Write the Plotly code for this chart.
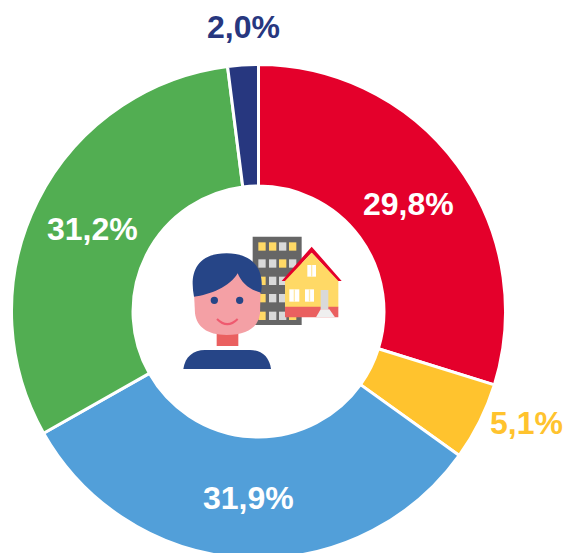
import plotly.graph_objects as go

labels = ["A", "B", "C", "D", "E"]
values = [29.8, 5.1, 31.9, 31.2, 2.0]
colors = ["#E4002B", "#FFC32E", "#529FD9", "#52AE52", "#27377F"]
text_colors = ["#FFFFFF", "#FFC32E", "#FFFFFF", "#FFFFFF", "#27377F"]
label_px = [(408, 204), (526, 423), (248, 498), (92, 229), (243, 27)]

W, H = 567, 564
CX, CY, R = 258.5, 311.5, 247
FONT = dict(family="Liberation Sans", size=32, weight="bold")

def X(z):
    return (170 + z / 3) / W
def Y(z):
    return 1 - (220 + z / 3) / H
def path(s):
    out = []
    for t in s.split():
        if "," in t:
            a, b = t.split(",")
            out.append(f"{X(float(a)):.5f},{Y(float(b)):.5f}")
        else:
            out.append(t)
    return " ".join(out)
def shape(s, fill, line=None, w=0):
    return dict(type="path", xref="paper", yref="paper", path=path(s), fillcolor=fill,
                line=dict(color=line or fill, width=w), layer="above")
def rect(x0, y0, x1, y1, fill):
    return shape(f"M {x0},{y0} L {x1},{y0} L {x1},{y1} L {x0},{y1} Z", fill)
def circ(cx, cy, r, fill):
    return dict(type="circle", xref="paper", yref="paper", x0=X(cx - r), x1=X(cx + r),
                y0=Y(cy + r), y1=Y(cy - r), fillcolor=fill, line_width=0, layer="above")

shapes = [rect(248, 50, 395, 315, "#666666")]
win = [["#FFD966", "#FFD966", "#D9D9D9", "#FFD966"],
       ["#D9D9D9", "#D9D9D9", "#FFD966", "#D9D9D9"],
       ["#FFD966", "#D9D9D9", "#D9D9D9", "#D9D9D9"],
       ["#FFD966", "#D9D9D9", "#D9D9D9", "#FFD966"],
       ["#FFD966", "#D9D9D9", "#D9D9D9", "#FFD966"]]
for ry, row in zip([67, 118, 170, 222, 275], win):
    for cx, c in zip([265, 297, 327, 357], row):
        shapes.append(rect(cx, ry, cx + 22, ry + 25, c))
shapes += [
    rect(345, 175, 505, 262, "#FFD966"),
    rect(345, 260, 505, 292, "#EA6060"),
    shape("M 335,183 L 425,80 L 515,183 L 503,183 L 425,98 L 347,183 Z", "#E4002B"),
    shape("M 425,98 L 345,183 L 505,183 Z", "#FFD966"),
    rect(452, 210, 475, 268, "#D9D9D9"),
    shape("M 452,268 L 478,268 L 495,292 L 438,292 Z", "#EFEFEF"),
]
for x0, y0, x1, y1 in [(358, 208, 388, 245), (405, 208, 432, 245), (412, 135, 438, 170)]:
    shapes.append(rect(x0, y0, x1, y1, "#FFFFFF"))
    shapes.append(rect((x0 + x1) / 2 - 2, y0, (x0 + x1) / 2 + 2, y1, "#FFE9A8"))
shapes += [
    rect(140, 335, 205, 378, "#EA6060"),
    shape("M 40,447 C 45,410 70,390 105,390 L 240,390 C 275,390 298,410 303,447 Z", "#264587"),
    shape("M 72,220 L 75,280 C 80,320 110,345 170,345 C 235,345 265,320 270,280 L 272,200 L 170,130 Z", "#F4A0A5"),
    shape("M 72,230 C 60,170 70,100 170,100 C 250,100 285,150 273,218 C 240,210 215,190 203,160 C 180,200 120,225 72,230 Z", "#264587"),
    circ(133, 241, 11, "#264587"),
    circ(209, 241, 11, "#264587"),
    dict(type="path", xref="paper", yref="paper", path=path("M 141,297 Q 172,328 203,297"),
         line=dict(color="#EF5A6F", width=2), layer="above"),
]

annotations = [
    dict(text=f"{v:.1f}%".replace(".", ","), x=p[0] / W, y=1 - p[1] / H, xref="paper", yref="paper",
         showarrow=False, xanchor="center", yanchor="middle", font=dict(FONT, color=c))
    for v, p, c in zip(values, label_px, text_colors)
]

fig = go.Figure(go.Pie(
    labels=labels, values=values, sort=False, direction="clockwise", rotation=0, hole=0.508,
    marker=dict(colors=colors, line=dict(color="#FFFFFF", width=3)),
    textinfo="none", showlegend=False, hoverinfo="skip",
    domain=dict(x=[(CX - R) / W, (CX + R) / W], y=[(H - CY - R) / H, (H - CY + R) / H]),
))
fig.update_layout(width=W, height=H, margin=dict(l=0, r=0, t=0, b=0),
                  paper_bgcolor="white", shapes=shapes, annotations=annotations)
fig.write_html("out.html", post_script="document.body.style.margin='0';document.documentElement.style.overflow='hidden';", config={"displayModeBar": False})
